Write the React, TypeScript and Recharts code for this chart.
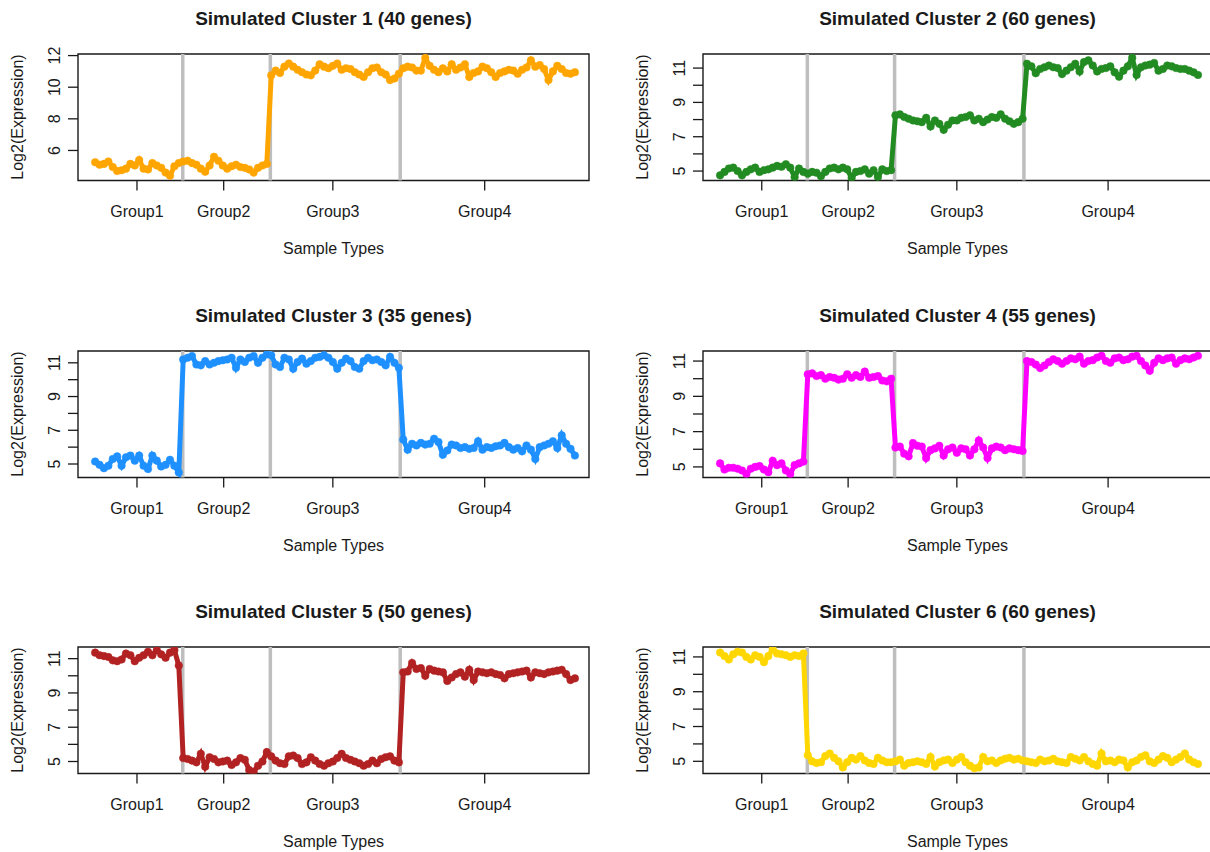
import React from "react";
import { LineChart, Line, XAxis, YAxis, ReferenceLine, ReferenceArea } from "recharts";

const FONT = '"Liberation Sans", Arial, Helvetica, sans-serif';

const GROUP_LABELS = ["Group1", "Group2", "Group3", "Group4"];
const GROUP_TICKS = [10.5, 30.2, 55, 89.5];
const GROUP_BOUNDARIES = [20.9, 40.8, 70.3];
const X_DOMAIN: [number, number] = [-2.9, 113.2];

// cluster 1 (40 genes)
const cluster1Expr = [
  5.25, 5.1, 5.15, 5.3, 4.95, 4.7, 4.75, 4.85, 5.15, 5.05, 5.4, 4.85, 4.8, 5.2, 5.05, 4.9, 4.6, 4.4, 5.0, 5.2,
  5.3, 5.35, 5.2, 5.1, 4.85, 4.65, 5.05, 5.6, 5.35, 5.05, 4.85, 5.0, 5.1, 4.95, 4.9, 4.8, 4.6, 4.9, 5.05, 5.15,
  10.75, 11.05, 10.9, 11.3, 11.5, 11.3, 11.1, 10.95, 10.8, 10.75, 11.05, 11.45, 11.3, 11.2, 11.35, 11.5, 11.1, 11.2, 11.15, 10.95,
  10.8, 10.65, 10.95, 11.2, 11.25, 10.95, 10.8, 10.45, 10.55, 10.85,
  11.2, 11.3, 11.25, 11.05, 11.05, 11.85, 11.35, 11.1, 10.95, 11.2, 11.0, 11.45, 11.1, 11.25, 11.45, 10.65, 10.9, 11.0, 11.3, 11.2,
  10.95, 10.65, 10.9, 11.0, 11.1, 11.05, 10.85, 11.1, 11.25, 11.7, 11.3, 11.4, 11.15, 10.45, 11.0, 11.35, 11.15, 10.9, 10.85, 10.95,
];

// cluster 2 (60 genes)
const cluster2Expr = [
  4.75, 4.95, 5.15, 5.2, 5.0, 4.75, 4.95, 5.1, 5.2, 4.95, 5.05, 5.1, 5.2, 5.3, 5.25, 5.4, 5.2, 4.65, 5.15, 4.95,
  4.85, 4.95, 4.9, 4.7, 4.95, 5.15, 5.2, 5.1, 5.2, 5.1, 4.6, 4.95, 5.0, 5.1, 4.85, 5.05, 4.65, 5.1, 5.0, 5.05,
  8.25, 8.3, 8.15, 8.05, 7.95, 7.9, 7.85, 8.1, 7.6, 7.95, 7.75, 7.4, 7.7, 7.95, 7.95, 8.1, 8.15, 8.25, 7.95, 8.05,
  7.85, 8.0, 8.15, 8.1, 8.3, 8.05, 7.9, 7.75, 7.85, 8.05,
  11.25, 11.1, 10.7, 10.95, 11.05, 11.15, 11.05, 11.0, 10.65, 10.85, 11.05, 11.25, 10.8, 11.35, 11.45, 11.15, 10.8, 10.95, 11.0, 11.1,
  10.75, 10.5, 10.85, 11.1, 11.6, 10.6, 11.05, 11.15, 11.2, 11.3, 10.85, 10.95, 11.15, 11.1, 11.0, 10.95, 10.95, 10.85, 10.75, 10.6,
];

// cluster 3 (35 genes)
const cluster3Expr = [
  5.15, 4.95, 4.75, 4.9, 5.3, 5.45, 4.9, 5.4, 5.5, 5.2, 5.5, 4.9, 4.7, 5.5, 5.2, 4.85, 4.95, 5.25, 4.9, 4.5,
  11.2, 11.3, 11.4, 10.9, 10.85, 11.1, 10.9, 11.0, 11.1, 11.15, 11.2, 11.3, 10.7, 11.2, 11.05, 11.3, 11.4, 11.0, 11.3, 11.5,
  11.45, 10.9, 10.75, 11.3, 11.2, 10.65, 11.05, 11.25, 10.95, 11.1, 11.3, 11.35, 11.45, 11.3, 11.05, 10.65, 11.0, 11.25, 11.1, 10.75,
  10.65, 11.1, 11.3, 11.15, 11.2, 11.05, 10.85, 11.35, 11.0, 10.7,
  6.45, 5.85, 6.2, 6.1, 6.25, 6.15, 6.2, 6.5, 6.3, 5.55, 5.8, 6.15, 6.1, 5.95, 6.0, 5.9, 5.95, 6.35, 5.85, 6.0,
  5.95, 6.05, 6.1, 6.25, 6.0, 5.85, 5.95, 5.75, 6.1, 5.85, 5.3, 6.0, 6.1, 6.2, 6.35, 5.95, 6.7, 6.2, 5.9, 5.5,
];

// cluster 4 (55 genes)
const cluster4Expr = [
  5.2, 4.85, 4.95, 4.95, 4.9, 4.8, 4.6, 4.9, 5.0, 5.05, 4.85, 4.7, 5.35, 5.1, 5.2, 4.8, 4.6, 5.1, 5.2, 5.3,
  10.25, 10.3, 10.15, 10.2, 10.0, 10.1, 10.05, 9.95, 10.0, 10.25, 10.05, 10.2, 10.1, 10.4, 10.05, 10.1, 10.15, 9.9, 9.85, 10.0,
  6.1, 6.15, 5.75, 5.6, 6.35, 6.2, 6.15, 5.5, 5.95, 6.05, 6.2, 5.65, 6.0, 6.1, 5.8, 6.05, 6.0, 5.65, 6.0, 6.5,
  6.1, 5.5, 6.05, 6.15, 6.1, 5.95, 6.05, 6.0, 5.95, 5.9,
  11.0, 10.95, 10.8, 10.6, 10.75, 10.95, 11.1, 11.0, 10.85, 11.0, 11.15, 11.1, 11.25, 10.85, 11.0, 11.05, 11.2, 11.3, 11.0, 10.9,
  11.15, 11.2, 11.05, 11.1, 11.25, 11.3, 11.0, 10.75, 10.45, 10.9, 11.15, 11.05, 11.15, 11.2, 10.85, 11.05, 11.15, 11.1, 11.2, 11.3,
];

// cluster 5 (50 genes)
const cluster5Expr = [
  11.35, 11.2, 11.15, 11.1, 10.9, 10.85, 10.95, 11.3, 11.2, 10.85, 11.05, 11.2, 11.4, 11.2, 11.5, 11.25, 11.05, 11.35, 11.5, 10.6,
  5.2, 5.15, 5.05, 4.95, 5.45, 4.7, 5.25, 5.15, 4.95, 5.0, 5.05, 4.8, 4.95, 5.2, 5.1, 4.5, 4.4, 4.75, 5.0, 5.55,
  5.3, 5.05, 4.9, 4.85, 5.3, 5.35, 5.2, 4.85, 4.95, 5.25, 5.05, 4.85, 4.75, 4.9, 5.0, 5.2, 5.45, 5.2, 5.1, 5.0,
  4.9, 4.75, 4.85, 5.05, 4.9, 5.15, 5.25, 5.3, 5.05, 4.95,
  10.2, 10.25, 10.75, 10.4, 10.45, 10.0, 10.4, 10.3, 10.25, 10.2, 9.7, 9.9, 10.1, 10.2, 9.95, 10.35, 9.75, 10.25, 10.2, 10.15,
  10.2, 10.1, 10.05, 9.85, 10.1, 10.15, 10.2, 10.25, 10.3, 9.9, 10.2, 10.15, 10.1, 10.2, 10.25, 10.3, 10.35, 10.1, 9.75, 9.85,
];

// cluster 6 (60 genes)
const cluster6Expr = [
  11.25, 11.05, 10.85, 11.15, 11.3, 11.25, 11.0, 10.85, 11.1, 11.0, 10.7, 11.05, 11.45, 11.2, 11.15, 11.1, 11.0, 11.1, 11.05, 11.2,
  5.35, 5.0, 4.9, 4.95, 5.3, 5.45, 5.2, 5.0, 4.65, 4.95, 5.2, 5.1, 5.3, 5.05, 4.9, 4.85, 5.2, 5.05, 4.95, 4.95,
  5.0, 5.1, 4.75, 4.9, 4.95, 5.0, 4.95, 4.85, 5.25, 4.7, 4.95, 5.05, 5.1, 4.9, 5.1, 5.25, 4.95, 4.75, 4.6, 4.65,
  5.25, 5.0, 5.05, 4.9, 5.05, 5.15, 5.2, 5.1, 5.15, 5.05,
  5.0, 4.95, 4.9, 5.1, 5.0, 5.05, 5.15, 5.0, 4.95, 4.9, 5.25, 5.15, 5.05, 5.25, 5.0, 4.85, 4.75, 5.45, 5.0, 5.05,
  4.95, 5.1, 5.05, 4.65, 4.95, 5.05, 5.25, 5.35, 5.0, 4.9, 5.1, 5.3, 5.2, 4.95, 5.1, 5.25, 5.45, 5.1, 4.95, 4.85,
];

const ODD_TICKS = [5, 6, 7, 8, 9, 10, 11];
const ODD_LABELS = [5, 7, 9, 11];

type PanelDef = {
  title: string;
  values: number[];
  color: string;
  yDomain: [number, number];
  yTicks: number[];
  yLabels: number[];
};

const PANELS: PanelDef[] = [
  { title: "Simulated Cluster 1 (40 genes)", values: cluster1Expr, color: "#FFA500", yDomain: [4.1, 12.1], yTicks: [6, 8, 10, 12], yLabels: [6, 8, 10, 12] },
  { title: "Simulated Cluster 2 (60 genes)", values: cluster2Expr, color: "#228B22", yDomain: [4.45, 11.82], yTicks: ODD_TICKS, yLabels: ODD_LABELS },
  { title: "Simulated Cluster 3 (35 genes)", values: cluster3Expr, color: "#1E90FF", yDomain: [4.2, 11.7], yTicks: ODD_TICKS, yLabels: ODD_LABELS },
  { title: "Simulated Cluster 4 (55 genes)", values: cluster4Expr, color: "#FF00FF", yDomain: [4.4, 11.57], yTicks: ODD_TICKS, yLabels: ODD_LABELS },
  { title: "Simulated Cluster 5 (50 genes)", values: cluster5Expr, color: "#B22222", yDomain: [4.3, 11.68], yTicks: ODD_TICKS, yLabels: ODD_LABELS },
  { title: "Simulated Cluster 6 (60 genes)", values: cluster6Expr, color: "#FFD700", yDomain: [4.3, 11.57], yTicks: ODD_TICKS, yLabels: ODD_LABELS },
];

const PANEL_W = 625;
const PANEL_H = 296;
const ROW_TOPS = [0, 297, 593];
const COL_LEFTS = [0, 625];
const BOX_LEFT = 78;
const BOX_TOP = 54;
const BOX_H = 126.5;
const X_AXIS_H = 40;
const INK = "#1a1a1a";
const LABEL_SIZE = 16;

function XTick(props: any) {
  const { x, y, payload } = props;
  const i = GROUP_TICKS.indexOf(payload.value);
  return (
    <text x={x} y={y} dy="0.71em" textAnchor="middle" fontSize={LABEL_SIZE} fontFamily={FONT} fill={INK}>
      {GROUP_LABELS[i] ?? ""}
    </text>
  );
}

function YTick(props: any) {
  const { x, y, payload, shown } = props;
  if (!shown.includes(payload.value)) return <g />;
  return (
    <text x={x} y={y} transform={`rotate(-90 ${x} ${y})`} textAnchor="middle" fontSize={LABEL_SIZE} fontFamily={FONT} fill={INK}>
      {payload.value}
    </text>
  );
}

function Panel({ def, left, top, rightMargin }: { def: PanelDef; left: number; top: number; rightMargin: number }) {
  const data = def.values.map((v, i) => ({ idx: i + 1, value: v }));
  const boxW = PANEL_W - BOX_LEFT - rightMargin;
  return (
    <div style={{ position: "absolute", left, top, width: PANEL_W, height: PANEL_H }}>
      <div
        style={{
          position: "absolute", left: BOX_LEFT - 40, width: boxW + 80, top: 8, lineHeight: "22px",
          textAlign: "center", fontSize: 19, fontWeight: "bold", color: INK, whiteSpace: "nowrap",
        }}
      >
        {def.title}
      </div>
      <div
        style={{
          position: "absolute", left: BOX_LEFT, width: boxW, top: 240, lineHeight: "18px",
          textAlign: "center", fontSize: LABEL_SIZE, color: INK,
        }}
      >
        Sample Types
      </div>
      <div
        style={{
          position: "absolute", left: 18 - 100, width: 200, top: BOX_TOP + BOX_H / 2 - 9, lineHeight: "18px",
          textAlign: "center", fontSize: LABEL_SIZE, color: INK, transform: "rotate(-90deg)",
        }}
      >
        Log2(Expression)
      </div>
      <LineChart
        width={PANEL_W}
        height={PANEL_H}
        data={data}
        margin={{ top: BOX_TOP, right: rightMargin, left: 0, bottom: PANEL_H - BOX_TOP - BOX_H - X_AXIS_H }}
        style={{ position: "absolute", left: 0, top: 0 }}
      >
        <XAxis
          dataKey="idx"
          type="number"
          domain={X_DOMAIN}
          allowDataOverflow
          ticks={GROUP_TICKS}
          interval={0}
          height={X_AXIS_H}
          axisLine={false}
          tickLine={{ stroke: INK, strokeWidth: 1.3 }}
          tickSize={10}
          tickMargin={15}
          tick={(p: any) => <XTick {...p} />}
        />
        <YAxis
          type="number"
          domain={def.yDomain}
          allowDataOverflow
          ticks={def.yTicks}
          interval={0}
          width={BOX_LEFT}
          axisLine={false}
          tickLine={{ stroke: INK, strokeWidth: 1.3 }}
          tickSize={10}
          tickMargin={8}
          tick={(p: any) => <YTick {...p} shown={def.yLabels} />}
        />
        {GROUP_BOUNDARIES.map((b) => (
          <ReferenceLine key={b} x={b} stroke="#BEBEBE" strokeWidth={3.5} />
        ))}
        <Line
          type="linear"
          dataKey="value"
          stroke={def.color}
          strokeWidth={5}
          dot={{ r: 3.8, fill: def.color, stroke: def.color, strokeWidth: 0.5 }}
          activeDot={false}
          isAnimationActive={false}
        />
        <ReferenceArea
          x1={X_DOMAIN[0]}
          x2={X_DOMAIN[1]}
          y1={def.yDomain[0]}
          y2={def.yDomain[1]}
          fill="none"
          stroke={INK}
          strokeWidth={1.4}
          ifOverflow="visible"
        />
      </LineChart>
    </div>
  );
}

export default function App() {
  return (
    <div
      style={{
        position: "absolute", left: 0, top: 0, width: 1210, height: 852, overflow: "hidden",
        background: "#fff", fontFamily: FONT,
      }}
    >
      {PANELS.map((def, i) => (
        <Panel
          key={def.title}
          def={def}
          left={COL_LEFTS[i % 2]}
          top={ROW_TOPS[Math.floor(i / 2)]}
          rightMargin={i % 2 === 0 ? 36 : 38}
        />
      ))}
    </div>
  );
}
